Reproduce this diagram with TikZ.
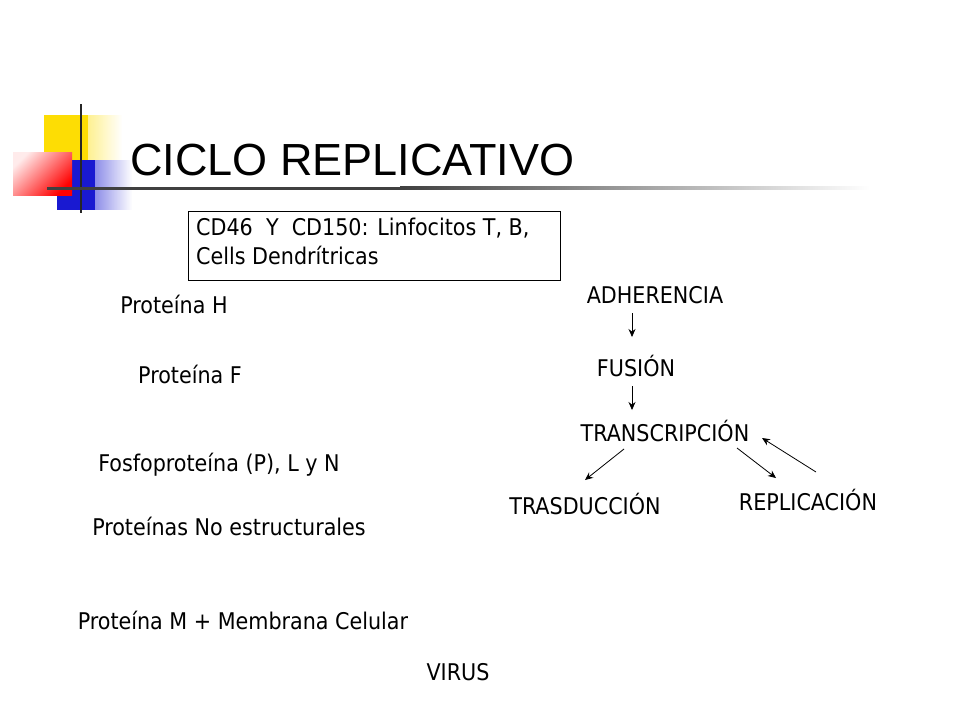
\documentclass[tikz,border=0pt]{standalone}
\usepackage{fontspec}
\setmainfont{DejaVu Sans Condensed}
\newfontfamily\titlefont{Liberation Sans}
\usetikzlibrary{fadings,arrows.meta}
\begin{document}
\begin{tikzpicture}[x=1pt,y=-1pt,
  lbl/.style={font=\fontsize{23}{28}\selectfont, inner sep=0pt},
  arr/.style={-{Stealth[length=8pt,width=7pt]}, line width=0.8pt}]
\useasboundingbox (0,0) rectangle (960,720);
% logo
\fill[yellow!80!orange, path fading=east] (44,115) rectangle (122,160);
\fill[yellow!80!orange] (44,115) rectangle (88,160);
\fill[blue!80!black!90, path fading=east] (57,160) rectangle (132,210);
\fill[blue!80!black!90] (57,160) rectangle (95,210);
\shade[left color=red!8, right color=red, shading angle=45] (13,152) rectangle (72,195);
\draw[line width=2.5pt, black!85] (81,104) -- (81,213);
\shade[left color=black!75, right color=white] (400,186.5) rectangle (870,189.5);
\fill[black!75] (47,186.5) rectangle (400,189.5);
\node[font=\titlefont\fontsize{45}{54}\selectfont, anchor=west, inner sep=0pt] (title) at (130,160) {CICLO REPLICATIVO};
% box
\node[draw, line width=0.8pt, minimum width=372pt, minimum height=69pt, anchor=north west, inner sep=0pt] (box) at (188,211) {};
\node[lbl, anchor=north west, align=left, font=\fontsize{23}{29}\selectfont] (boxt) at (196,218) {CD46\ \ Y\ \ CD150: Linfocitos T, B,\\Cells Dendrítricas};
\node[lbl] (ph) at (174,304) {Proteína H};
\node[lbl] (pf) at (190,374) {Proteína F};
\node[lbl] (fp) at (219,465) {Fosfoproteína (P), L y N};
\node[lbl] (pne) at (229,526) {Proteínas No estructurales};
\node[lbl] (pm) at (243,620) {Proteína M + Membrana Celular};
\node[lbl] (vir) at (458,672) {VIRUS};
\node[lbl] (adh) at (655,295) {ADHERENCIA};
\node[lbl] (fus) at (636,366) {FUSIÓN};
\node[lbl] (tra) at (665,431) {TRANSCRIPCIÓN};
\node[lbl] (trd) at (585,504) {TRASDUCCIÓN};
\node[lbl] (rep) at (808,500) {REPLICACIÓN};
\coordinate (a1) at (632,313); \coordinate (a2) at (632,337);
\coordinate (b1) at (632,386); \coordinate (b2) at (632,410);
\coordinate (c1) at (624,449); \coordinate (c2) at (585,480);
\coordinate (d1) at (737,448); \coordinate (d2) at (776,478);
\coordinate (e1) at (816,472); \coordinate (e2) at (762,438);
\draw[arr] (a1) -- (a2);
\draw[arr] (b1) -- (b2);
\draw[arr] (c1) -- (c2);
\draw[arr] (d1) -- (d2);
\draw[arr] (e1) -- (e2);
\end{tikzpicture}
\end{document}
